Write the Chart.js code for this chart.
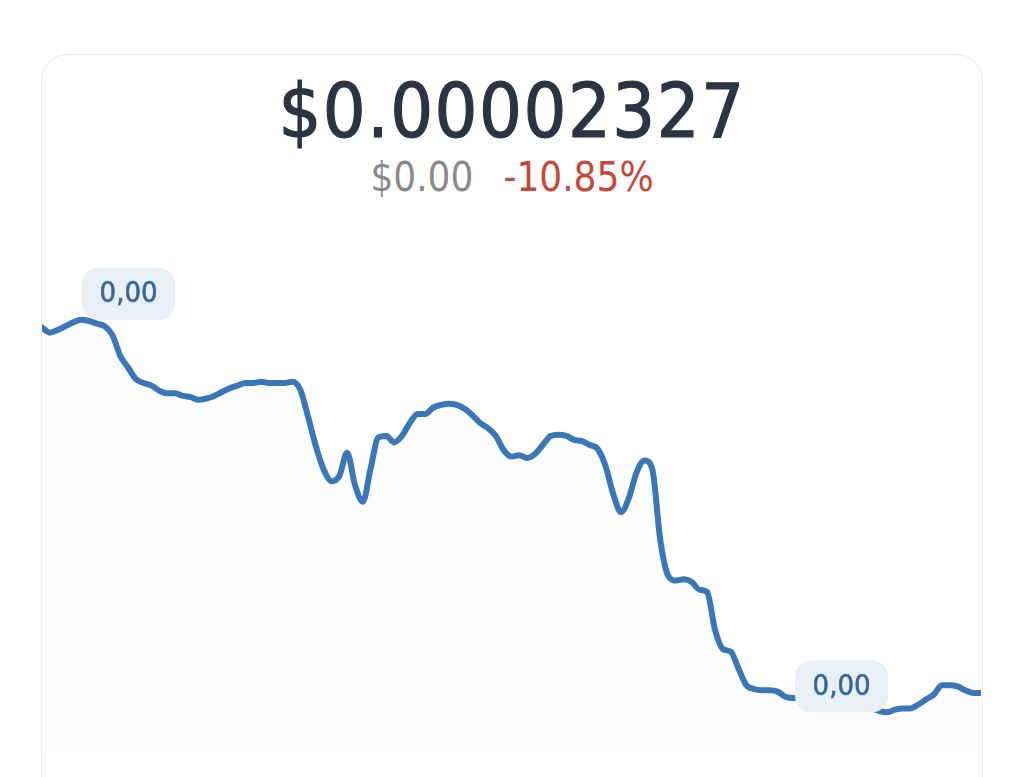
<!DOCTYPE html>
<html>
<head>
<meta charset="utf-8">
<script src="https://cdn.jsdelivr.net/npm/chart.js@4.4.1/dist/chart.umd.min.js"></script>
<style>
  html, body { margin: 0; padding: 0; background: #ffffff; width: 1024px; height: 777px; overflow: hidden; }
  .card { position: absolute; left: 41px; top: 54px; width: 940px; height: 820px; border: 1px solid #ececec; border-radius: 26px; background: #fff; }
  .title { position: absolute; left: 0; width: 1024px; top: 66px; text-align: center; font-family: 'DejaVu Sans Condensed', 'DejaVu Sans', sans-serif; font-size: 75px; line-height: 90px; color: #2c3444; letter-spacing: 1.5px; -webkit-text-stroke: 1.2px #2c3444; }
  .sub { position: absolute; left: 0; width: 1024px; top: 152px; text-align: center; font-family: 'DejaVu Sans Condensed', 'DejaVu Sans', sans-serif; font-size: 40px; line-height: 50px; }
  .sub .abs { color: #8a8a8a; margin-right: 30px; }
  .sub .pct { color: #c8463a; }
  .wrap { position: absolute; left: 42px; top: 250px; width: 939px; height: 501px; }
</style>
</head>
<body>
<div class="card"></div>
<div class="title">$0.00002327</div>
<div class="sub"><span class="abs">$0.00</span><span class="pct">-10.85%</span></div>
<div class="wrap"><canvas id="c"></canvas></div>
<script>
const currentPrice = "$0.00002327";
const changeAbs = "$0.00";
const changePct = "-10.85%";
const badgeText = "0,00";

const times = Array.from({length: 121}, (_, i) => i);
const prices = [
  0.00002610, 0.00002606, 0.00002608, 0.00002611, 0.00002614, 0.00002616, 0.00002615, 0.00002613, 0.00002611, 0.00002604,
  0.00002588, 0.00002579, 0.00002570, 0.00002567, 0.00002565, 0.00002561, 0.00002559, 0.00002559, 0.00002557, 0.00002556,
  0.00002554, 0.00002555, 0.00002557, 0.00002560, 0.00002563, 0.00002565, 0.00002567, 0.00002567, 0.00002568, 0.00002567,
  0.00002567, 0.00002567, 0.00002568, 0.00002562, 0.00002541, 0.00002518, 0.00002500, 0.00002491, 0.00002495, 0.00002513,
  0.00002488, 0.00002475, 0.00002501, 0.00002525, 0.00002526, 0.00002521, 0.00002526, 0.00002536, 0.00002543, 0.00002543,
  0.00002548, 0.00002550, 0.00002551, 0.00002550, 0.00002547, 0.00002542, 0.00002536, 0.00002532, 0.00002526, 0.00002515,
  0.00002510, 0.00002511, 0.00002509, 0.00002512, 0.00002519, 0.00002526, 0.00002527, 0.00002526, 0.00002523, 0.00002522,
  0.00002519, 0.00002516, 0.00002503, 0.00002481, 0.00002467, 0.00002478, 0.00002498, 0.00002507, 0.00002500, 0.00002446,
  0.00002418, 0.00002414, 0.00002415, 0.00002413, 0.00002407, 0.00002405, 0.00002376, 0.00002361, 0.00002359, 0.00002346,
  0.00002333, 0.00002330, 0.00002329, 0.00002329, 0.00002328, 0.00002324, 0.00002323, 0.00002324, 0.00002322, 0.00002320,
  0.00002319, 0.00002318, 0.00002318, 0.00002318, 0.00002317, 0.00002316, 0.00002315, 0.00002313, 0.00002312, 0.00002314,
  0.00002315, 0.00002315, 0.00002318, 0.00002322, 0.00002326, 0.00002333, 0.00002333, 0.00002332, 0.00002329, 0.00002327,
  0.00002327
];
const yMin = 0.00002282;
const yMax = 0.00002670;

const badgePlugin = {
  id: 'badges',
  afterDatasetsDraw(chart) {
    const ctx = chart.ctx;
    const xs = chart.scales.x, ys = chart.scales.y;
    let iMax = 0, iMin = 0;
    prices.forEach((v, i) => { if (v > prices[iMax]) iMax = i; if (v < prices[iMin]) iMin = i; });
    const w = 93, h = 52, r = 16;
    [iMax, iMin].forEach(i => {
      const px = xs.getPixelForValue(i), py = ys.getPixelForValue(prices[i]);
      const left = px < chart.width / 2 ? px + 1 : px - w + 1;
      const top = py - h;
      ctx.save();
      ctx.fillStyle = '#e9eff7';
      ctx.beginPath();
      ctx.roundRect(left, top, w, h, r);
      ctx.fill();
      ctx.fillStyle = '#35679d';
      ctx.strokeStyle = '#35679d';
      ctx.lineWidth = 0.6;
      ctx.font = "29px 'DejaVu Sans Condensed', 'DejaVu Sans', sans-serif";
      ctx.textAlign = 'center';
      ctx.textBaseline = 'middle';
      ctx.fillText(badgeText, left + w / 2, top + h / 2 + 1);
      ctx.strokeText(badgeText, left + w / 2, top + h / 2 + 1);
      ctx.restore();
    });
  }
};

new Chart(document.getElementById('c'), {
  type: 'line',
  data: {
    labels: times,
    datasets: [{
      data: prices,
      borderColor: '#3a77b9',
      borderWidth: 6,
      backgroundColor: 'rgba(0,0,0,0.009)',
      fill: 'start',
      pointRadius: 0,
      tension: 0.4,
      cubicInterpolationMode: 'monotone',
      borderCapStyle: 'round',
      borderJoinStyle: 'round'
    }]
  },
  options: {
    responsive: true,
    maintainAspectRatio: false,
    animation: false,
    layout: { padding: 0 },
    plugins: { legend: { display: false }, tooltip: { enabled: false } },
    scales: {
      x: { type: 'category', display: false, offset: false },
      y: { display: false, min: yMin, max: yMax }
    }
  },
  plugins: [badgePlugin]
});
</script>
</body>
</html>
